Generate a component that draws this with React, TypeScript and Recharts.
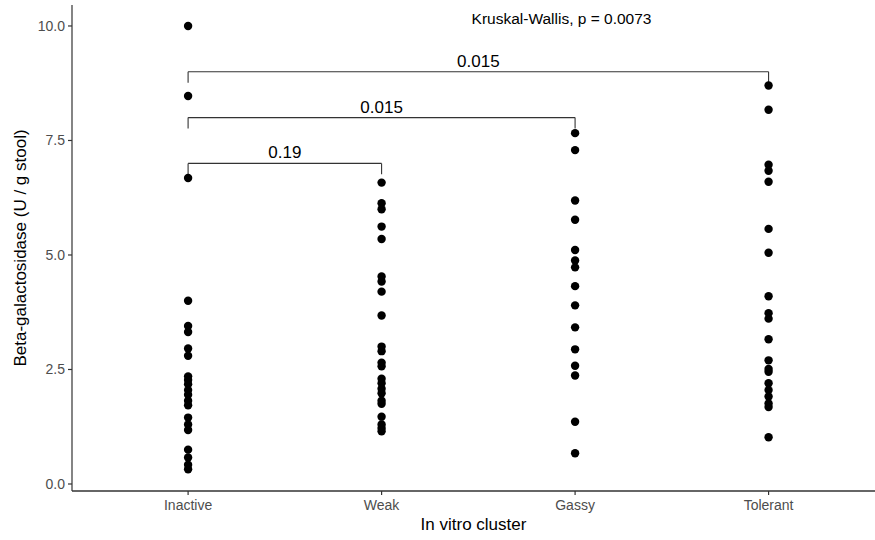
import { ScatterChart, Scatter, XAxis, YAxis, ReferenceLine, ReferenceDot } from "recharts";

const clusters = ["Inactive", "Weak", "Gassy", "Tolerant"];

// Beta-galactosidase activity per sample, one array per in vitro cluster
const inactive = [
  10.0, 8.47, 6.68, 4.0, 3.45, 3.32, 2.96, 2.8, 2.35, 2.27, 2.18, 2.05, 1.95, 1.82, 1.72, 1.45,
  1.3, 1.18, 0.75, 0.58, 0.42, 0.32,
];
const weak = [
  6.58, 6.13, 6.0, 5.62, 5.35, 4.53, 4.42, 4.2, 3.68, 3.0, 2.9, 2.65, 2.57, 2.3, 2.2, 2.08, 1.98,
  1.82, 1.75, 1.47, 1.3, 1.22, 1.15,
];
const gassy = [
  7.66, 7.29, 6.19, 5.77, 5.11, 4.88, 4.73, 4.32, 3.9, 3.42, 2.94, 2.58, 2.37, 1.36, 0.67,
];
const tolerant = [
  8.7, 8.17, 6.97, 6.84, 6.6, 5.57, 5.05, 4.1, 3.73, 3.61, 3.16, 2.7, 2.51, 2.45, 2.2, 2.05, 1.91,
  1.76, 1.68, 1.02,
];

const yTicks = [0, 2.5, 5, 7.5, 10];
const xDomain = [0.4, 4.55];
const yDomain = [-0.153, 10.458];

// pairwise Wilcoxon p-values against the Inactive group
const comparisons = [
  { from: 1, to: 2, y: 7.0, p: "0.19" },
  { from: 1, to: 3, y: 8.0, p: "0.015" },
  { from: 1, to: 4, y: 9.0, p: "0.015" },
];
const kruskal = "Kruskal-Wallis, p = 0.0073";

const groups = [inactive, weak, gassy, tolerant];
const points = groups.flatMap((vals, i) => vals.map((v) => ({ x: i + 1, y: v })));

const tip = 0.24;
const axisColor = "#333333";
const tickText = { fill: "#4d4d4d", fontSize: 14 };

const Dot = (props: any) => <circle cx={props.cx} cy={props.cy} r={4.2} fill="#000" />;

export default function App() {
  return (
    <div
      style={{
        position: "absolute",
        left: 0,
        top: 0,
        width: 875,
        height: 540,
        overflow: "hidden",
        background: "#fff",
        fontFamily: "'Liberation Sans', Arial, sans-serif",
      }}
    >
      <ScatterChart width={875} height={540} margin={{ top: 5, right: 0, bottom: 0, left: 0 }}>
        <XAxis
          type="number"
          dataKey="x"
          domain={xDomain}
          ticks={[1, 2, 3, 4]}
          tickFormatter={(v: number) => clusters[v - 1]}
          allowDataOverflow
          height={49}
          axisLine={false}
          tickLine={{ stroke: axisColor, strokeWidth: 1.2 }}
          tickSize={4}
          tickMargin={5}
          tick={tickText}
          label={{ value: "In vitro cluster", position: "insideBottom", offset: 10, fill: "#000", fontSize: 17 }}
        />
        <YAxis
          type="number"
          dataKey="y"
          domain={yDomain}
          ticks={yTicks}
          tickFormatter={(v: number) => v.toFixed(1)}
          allowDataOverflow
          width={72}
          stroke={axisColor}
          strokeWidth={1.2}
          tickSize={4}
          tickMargin={3}
          tick={tickText}
          label={{
            value: "Beta-galactosidase (U / g stool)",
            angle: -90,
            position: "center",
            dx: -16,
            fill: "#000",
            fontSize: 17,
          }}
        />
        {/* bottom axis line, run past the right edge of the plot */}
        <ReferenceLine
          segment={[
            { x: xDomain[0], y: yDomain[0] },
            { x: xDomain[1] + 0.2, y: yDomain[0] },
          ]}
          stroke={axisColor}
          strokeWidth={1.3}
          ifOverflow="visible"
        />
        {comparisons.map((c) => (
          <ReferenceLine
            key={`h${c.to}`}
            segment={[
              { x: c.from, y: c.y },
              { x: c.to, y: c.y },
            ]}
            stroke={axisColor}
            strokeWidth={1.1}
            label={{ value: c.p, position: "top", offset: 5, fill: "#000", fontSize: 17 }}
          />
        ))}
        {comparisons.map((c) => (
          <ReferenceLine
            key={`l${c.to}`}
            segment={[
              { x: c.from, y: c.y },
              { x: c.from, y: c.y - tip },
            ]}
            stroke={axisColor}
            strokeWidth={1.1}
          />
        ))}
        {comparisons.map((c) => (
          <ReferenceLine
            key={`r${c.to}`}
            segment={[
              { x: c.to, y: c.y },
              { x: c.to, y: c.y - tip },
            ]}
            stroke={axisColor}
            strokeWidth={1.1}
          />
        ))}
        <ReferenceDot
          x={2.93}
          y={10.17}
          r={0}
          fill="none"
          stroke="none"
          label={{ value: kruskal, position: "center", fill: "#000", fontSize: 15.5 }}
        />
        <Scatter data={points} shape={Dot} isAnimationActive={false} />
      </ScatterChart>
    </div>
  );
}
